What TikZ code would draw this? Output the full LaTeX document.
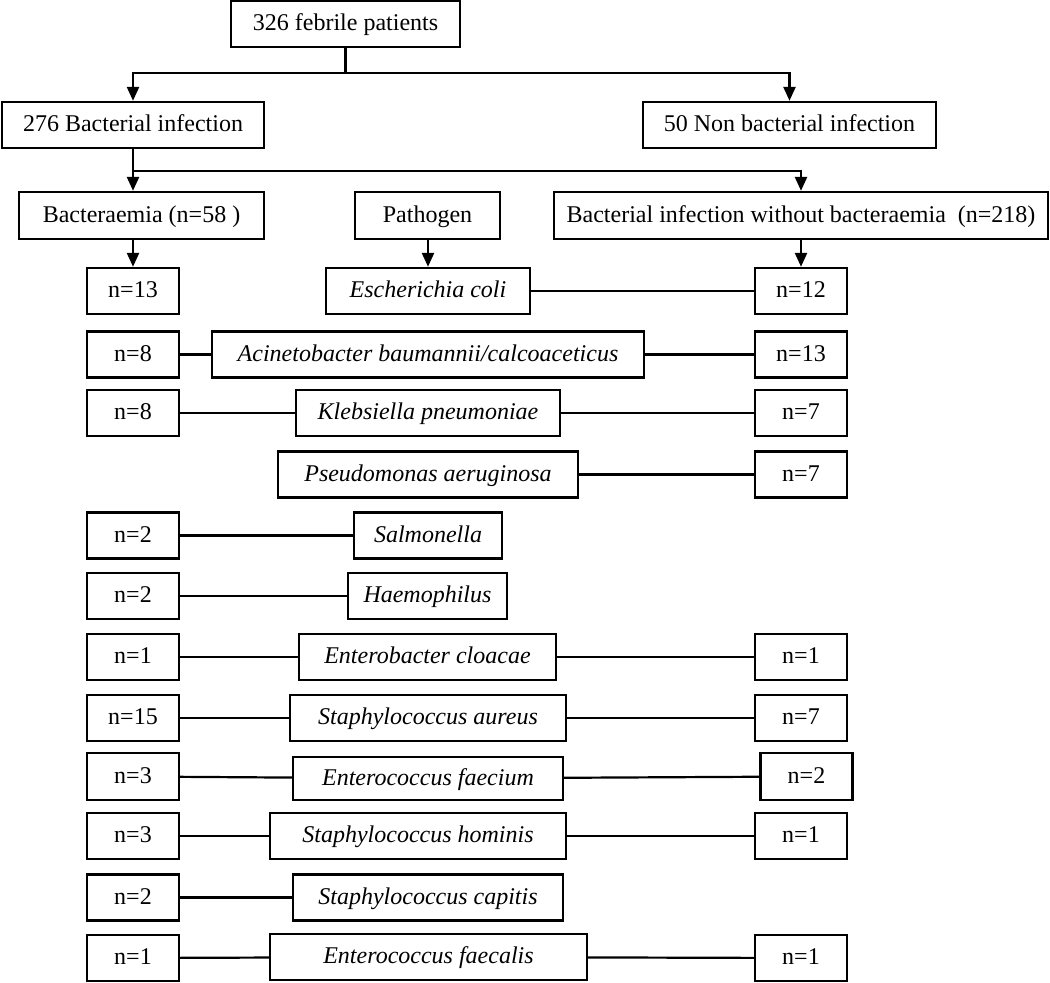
\documentclass[tikz,border=0pt]{standalone}
\usepackage{fontspec}
\setmainfont{Liberation Serif}
\usetikzlibrary{arrows.meta}
\begin{document}
\begin{tikzpicture}[x=1pt,y=-1pt,
  box/.style={draw, line width=2.4pt, inner sep=0pt, minimum height=46pt,
    font=\fontsize{24}{28}\selectfont, text height=16pt, text depth=3pt},
  sp/.style={box, font=\fontsize{24}{28}\selectfont\itshape},
  nb/.style={box, minimum width=92pt},
  conn/.style={line width=2.2pt},
  arr/.style={line width=2.5pt, -{Triangle[length=14pt,width=12pt]}}]
\useasboundingbox (0,0) rectangle (1050,983);
% header
\node[box, minimum width=229pt] (top) at (345.5,24) {326 febrile patients};
\node[box, minimum width=262pt] (b276) at (133,125) {276 Bacterial infection};
\node[box, minimum width=293pt] (b50) at (789.5,125) {50 Non bacterial infection};
\node[box, minimum width=245pt, minimum height=47pt] (bact) at (141.5,215.5) {Bacteraemia (n=58 )};
\node[box, minimum width=145pt, minimum height=47pt] (path) at (427.5,215.5) {Pathogen};
\node[box, minimum width=494pt, minimum height=47pt] (nobact) at (801,215.5) {Bacterial infection without bacteraemia\ \ (n=218)};
\coordinate (j1) at (345.5,73);
\coordinate (j2) at (133,171);
\draw[conn] (top.south) -- (j1);
\draw[arr] (j1) -| (b276.north);
\draw[arr] (j1) -| (b50.north);
\draw[conn] (b276.south) -- (j2);
\draw[arr] (j2) -- (j2 |- bact.north);
\draw[arr] (j2) -| (nobact.north);
% rows
\node[nb] (l1) at (133,291) {n=13};
\node[sp, minimum width=204pt] (p1) at (428,291) {Escherichia coli};
\node[nb] (r1) at (801,291) {n=12};
\node[nb] (l2) at (133,354.5) {n=8};
\node[sp, minimum width=432pt] (p2) at (428,354.5) {Acinetobacter baumannii/calcoaceticus};
\node[nb] (r2) at (801,354.5) {n=13};
\node[nb] (l3) at (133,413) {n=8};
\node[sp, minimum width=264pt] (p3) at (428,413) {Klebsiella pneumoniae};
\node[nb] (r3) at (801,413) {n=7};
\node[sp, minimum width=300pt] (p4) at (428,474.5) {Pseudomonas aeruginosa};
\node[nb] (r4) at (801,474.5) {n=7};
\node[nb] (l5) at (133,535.5) {n=2};
\node[sp, minimum width=148pt] (p5) at (428,535.5) {Salmonella};
\node[nb] (l6) at (133,596) {n=2};
\node[sp, minimum width=159pt] (p6) at (427.5,596) {Haemophilus};
\node[nb] (l7) at (133,657) {n=1};
\node[sp, minimum width=257pt] (p7) at (427.5,657) {Enterobacter cloacae};
\node[nb] (r7) at (801,657) {n=1};
\node[nb] (l8) at (133,718) {n=15};
\node[sp, minimum width=276pt] (p8) at (428,718) {Staphylococcus aureus};
\node[nb] (r8) at (801,718) {n=7};
\node[nb, minimum height=47pt] (l9) at (133,776.5) {n=3};
\node[sp, minimum width=270pt, minimum height=43pt] (p9) at (428,778.5) {Enterococcus faecium};
\node[nb, minimum height=47pt] (r9) at (806.5,776.5) {n=2};
\node[nb] (l10) at (133,836) {n=3};
\node[sp, minimum width=296pt] (p10) at (418,836) {Staphylococcus hominis};
\node[nb] (r10) at (801,836) {n=1};
\node[nb] (l11) at (133,897.5) {n=2};
\node[sp, minimum width=270pt] (p11) at (428,897.5) {Staphylococcus capitis};
\node[nb] (l12) at (133,958) {n=1};
\node[sp, minimum width=317pt] (p12) at (428.5,957) {Enterococcus faecalis};
\node[nb] (r12) at (801,958) {n=1};
% arrows into first row
\draw[arr] (bact.south -| l1) -- (l1.north);
\draw[arr] (path.south -| p1) -- (p1.north);
\draw[arr] (nobact.south) -- (r1.north);
% connectors
\draw[conn] (p1) -- (r1);
\draw[conn] (l2) -- (p2);
\draw[conn] (p2) -- (r2);
\draw[conn] (l3) -- (p3);
\draw[conn] (p3) -- (r3);
\draw[conn] (p4) -- (r4);
\draw[conn] (l5) -- (p5);
\draw[conn] (l6) -- (p6);
\draw[conn] (l7) -- (p7);
\draw[conn] (p7) -- (r7);
\draw[conn] (l8) -- (p8);
\draw[conn] (p8) -- (r8);
\draw[conn] (l9) -- (p9);
\draw[conn] (p9) -- (r9);
\draw[conn] (l10) -- (p10);
\draw[conn] (p10) -- (r10);
\draw[conn] (l11) -- (p11);
\draw[conn] (l12) -- (p12);
\draw[conn] (p12) -- (r12);
\end{tikzpicture}
\end{document}
